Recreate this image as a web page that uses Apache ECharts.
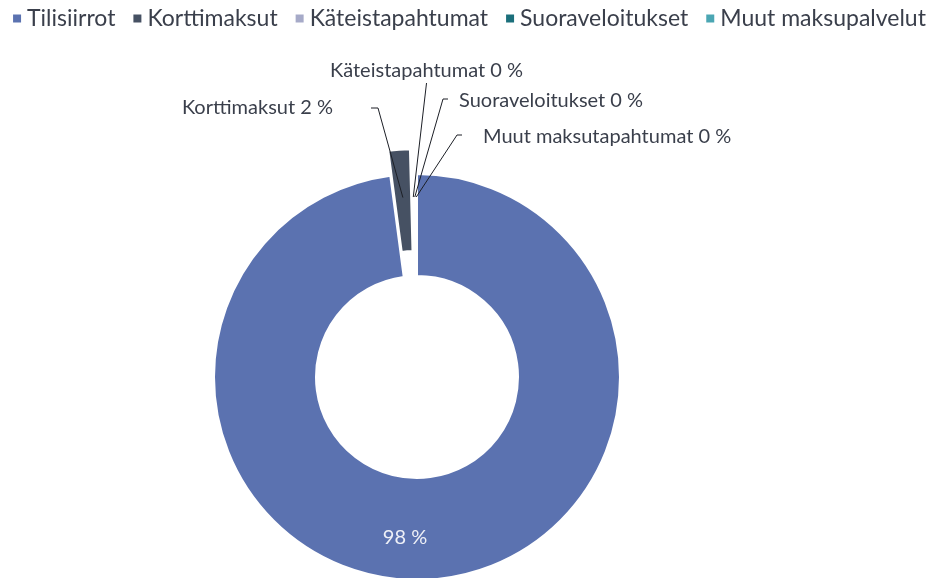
<!DOCTYPE html>
<html>
<head>
<meta charset="utf-8">
<script src="https://cdn.jsdelivr.net/npm/echarts@6/dist/echarts.min.js"></script>
<style>
html, body { margin: 0; padding: 0; background: #fff; }
#chart { width: 937px; height: 578px; }
</style>
</head>
<body>
<div id="chart"></div>
<script>
// data
var names = ['Tilisiirrot', 'Korttimaksut', 'Käteistapahtumat', 'Suoraveloitukset', 'Muut maksupalvelut'];
var labelNames = ['', 'Korttimaksut', 'Käteistapahtumat', 'Suoraveloitukset', 'Muut maksutapahtumat'];
var values = [97.9, 1.7, 0.14, 0.13, 0.13];
var colors = ['#5b72b0', '#465163', '#a6aac8', '#1b6f7b', '#4ba6b3'];

var cx = 417, cy = 377;
var total = values.reduce(function (a, b) { return a + b; }, 0);

// where each label sits, and how its leader line leaves it
var labelPlace = [
    { x: 405, y: 538, align: 'center' },
    { x: 333, y: 108, align: 'right', side: 'right', gap: 38 },
    { x: 330, y: 71, align: 'left', side: 'bottom' },
    { x: 459, y: 101, align: 'left', side: 'left', gap: 11 },
    { x: 483, y: 137, align: 'left', side: 'left', gap: 21 }
];

function midAngle(i) {
    var cum = 0;
    for (var k = 0; k < i; k++) cum += values[k];
    return (90 - (cum + values[i] / 2) / total * 360) * Math.PI / 180;
}

var pieData = values.map(function (v, i) {
    return { name: names[i], value: v, selected: i === 1, itemStyle: { color: colors[i] } };
});
// same values again, invisible, only to carry the labels above the slices
var labelData = values.map(function (v, i) {
    var item = { name: names[i], value: v };
    if (i === 0) {
        item.label = { color: '#eef0f7' };
        item.labelLine = { show: false };
    }
    return item;
});

var chart = echarts.init(document.getElementById('chart'));
chart.setOption({
    animation: false,
    legend: {
        top: 7,
        left: 'center',
        padding: 0,
        icon: 'rect',
        itemWidth: 10,
        itemHeight: 10,
        itemGap: 16,
        selectedMode: false,
        data: names,
        textStyle: { fontFamily: 'Lato', fontSize: 23, color: '#3a3f4b' }
    },
    series: [{
        type: 'pie',
        center: [cx, cy],
        radius: [101, 203],
        startAngle: 90,
        clockwise: true,
        selectedMode: 'single',
        selectedOffset: 25,
        emphasis: { disabled: true },
        select: { itemStyle: { borderColor: '#fff', borderWidth: 2 } },
        itemStyle: { borderColor: '#fff', borderWidth: 2 },
        label: { show: false },
        labelLine: { show: false },
        data: pieData
    }, {
        type: 'pie',
        z: 3,
        silent: true,
        center: [cx, cy],
        radius: [101, 203],
        startAngle: 90,
        clockwise: true,
        avoidLabelOverlap: false,
        itemStyle: { color: 'rgba(0,0,0,0)', borderWidth: 0 },
        emphasis: { disabled: true },
        label: {
            show: true,
            position: 'outside',
            fontFamily: 'Lato',
            fontSize: 20,
            color: '#3a3f4b',
            formatter: function (p) {
                var pct = Math.round(p.percent) + ' %';
                return p.dataIndex === 0 ? pct : labelNames[p.dataIndex] + ' ' + pct;
            }
        },
        labelLine: {
            show: true,
            lineStyle: { color: '#1c1f26', width: 1 }
        },
        labelLayout: function (params) {
            var i = params.dataIndex;
            var pl = labelPlace[i];
            var out = { x: pl.x, y: pl.y, align: pl.align, verticalAlign: 'middle' };
            if (i === 0) return out;
            var w = params.labelRect.width, h = params.labelRect.height;
            var left = pl.align === 'right' ? pl.x - w : pl.x;
            var a = midAngle(i);
            var p0 = [cx + 180 * Math.cos(a), cy - 180 * Math.sin(a)];
            var p1, p2;
            if (pl.side === 'right') {
                p2 = [left + w + pl.gap, pl.y];
                p1 = [p2[0] + 7, pl.y];
            } else if (pl.side === 'left') {
                p2 = [left - pl.gap, pl.y - 2];
                p1 = [p2[0] - 5, pl.y - 2];
            } else {
                p2 = [left + w / 2, pl.y + h / 2 + 2];
                p1 = p2.slice();
            }
            out.labelLinePoints = [p0, p1, p2];
            return out;
        },
        data: labelData
    }]
});
</script>
</body>
</html>
